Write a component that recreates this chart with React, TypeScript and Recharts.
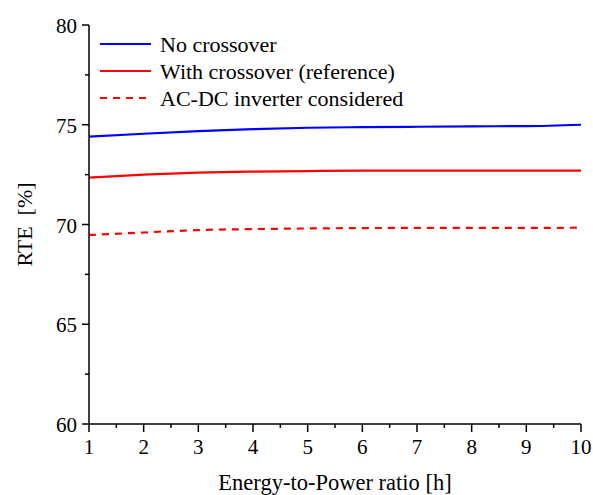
import React from 'react';
import { LineChart, Line, XAxis, YAxis } from 'recharts';

const ratios = [1, 2, 3, 4, 5, 6, 7, 8, 9, 10];
const noCrossover = [74.4, 74.55, 74.68, 74.78, 74.85, 74.88, 74.9, 74.92, 74.93, 75.0];
const withCrossover = [72.35, 72.5, 72.6, 72.65, 72.68, 72.7, 72.7, 72.7, 72.7, 72.7];
const inverterConsidered = [69.47, 69.6, 69.72, 69.77, 69.8, 69.82, 69.83, 69.83, 69.83, 69.84];

const xTicks = [1, 1.5, 2, 2.5, 3, 3.5, 4, 4.5, 5, 5.5, 6, 6.5, 7, 7.5, 8, 8.5, 9, 9.5, 10];
const yTicks = [60, 62.5, 65, 67.5, 70, 72.5, 75, 77.5, 80];

const legendItems = [
  { name: 'No crossover', color: '#0000ff', dash: undefined },
  { name: 'With crossover (reference)', color: '#ff0000', dash: undefined },
  { name: 'AC-DC inverter considered', color: '#ff0000', dash: '7 6' },
];

const data = ratios.map((r, i) => ({
  ratio: r,
  noCross: noCrossover[i],
  withCross: withCrossover[i],
  inverter: inverterConsidered[i],
}));

const FONT = "'Liberation Serif', 'Times New Roman', serif";
const txt = { fontFamily: FONT };

const XTick = (props: any) => {
  const { x, y, payload } = props;
  const major = Number.isInteger(payload.value);
  return (
    <g>
      <line x1={x} x2={x} y1={y} y2={y + (major ? 8 : 4)} stroke="#000" strokeWidth={1.5} />
      {major && (
        <text x={x} y={y + 30} textAnchor="middle" fontSize={21} style={txt} fill="#000">
          {payload.value}
        </text>
      )}
    </g>
  );
};

const YTick = (props: any) => {
  const { x, y, payload } = props;
  const major = payload.value % 5 === 0;
  return (
    <g>
      <line x1={x} x2={x - (major ? 7 : 4)} y1={y} y2={y} stroke="#000" strokeWidth={1.5} />
      {major && (
        <text x={x - 12} y={y + 8} textAnchor="end" fontSize={21} style={txt} fill="#000">
          {payload.value}
        </text>
      )}
    </g>
  );
};

export default function App() {
  return (
    <div style={{ position: 'absolute', left: 0, top: 0, width: 593, height: 495, background: '#fff' }}>
      <LineChart width={593} height={495} data={data} margin={{ top: 25, right: 12, left: 0, bottom: 0 }}>
        <XAxis
          dataKey="ratio"
          type="number"
          domain={[1, 10]}
          ticks={xTicks}
          interval={0}
          tick={<XTick />}
          tickLine={false}
          tickSize={0}
          tickMargin={0}
          height={71}
          axisLine={{ stroke: '#000', strokeWidth: 1.5 }}
          label={{ value: 'Energy-to-Power ratio [h]', position: 'insideBottom', offset: 5, fontSize: 22.5, fill: '#000', style: txt }}
        />
        <XAxis xAxisId="top" orientation="top" dataKey="ratio" type="number" domain={[1, 10]} tick={false} tickLine={false} height={0} axisLine={{ stroke: '#000', strokeWidth: 1.5 }} />
        <YAxis
          type="number"
          domain={[60, 80]}
          ticks={yTicks}
          interval={0}
          tick={<YTick />}
          tickLine={false}
          tickSize={0}
          tickMargin={0}
          width={89}
          axisLine={{ stroke: '#000', strokeWidth: 1.5 }}
          label={{ value: 'RTE\u00a0\u00a0[%]', angle: -90, position: 'insideLeft', offset: 24, fontSize: 22, fill: '#000', style: { ...txt, textAnchor: 'middle' } }}
        />
        <YAxis yAxisId="right" orientation="right" type="number" domain={[60, 80]} tick={false} tickLine={false} width={0} axisLine={{ stroke: '#000', strokeWidth: 1.5 }} />
        <Line dataKey="noCross" type="monotone" stroke="#0000ff" strokeWidth={2.2} dot={false} isAnimationActive={false} />
        <Line dataKey="withCross" type="monotone" stroke="#ff0000" strokeWidth={2.2} dot={false} isAnimationActive={false} />
        <Line dataKey="inverter" type="monotone" stroke="#ff0000" strokeWidth={2.2} strokeDasharray="7 6" dot={false} isAnimationActive={false} />
      </LineChart>
      <svg width={593} height={130} style={{ position: 'absolute', left: 0, top: 0, pointerEvents: 'none' }}>
        {legendItems.map((item, i) => (
          <g key={item.name}>
            <line x1={100} x2={151} y1={44 + i * 27} y2={44 + i * 27} stroke={item.color} strokeWidth={2.2} strokeDasharray={item.dash} />
            <text x={160} y={44 + i * 27 + 8} fontSize={22} style={txt} fill="#000">
              {item.name}
            </text>
          </g>
        ))}
      </svg>
    </div>
  );
}
